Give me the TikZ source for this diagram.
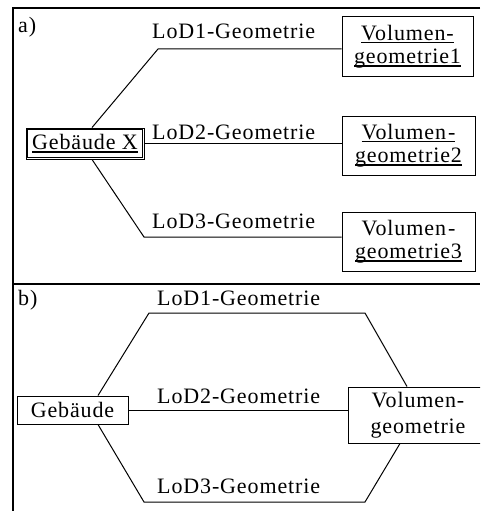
\documentclass[tikz,border=0pt]{standalone}
\usepackage{fontspec}
\setmainfont{Liberation Serif}[LetterSpace=4]
\usetikzlibrary{calc}
\newcommand\fs{\fontsize{22}{23.5}\selectfont}
\newcommand\myul[1]{\setbox0\hbox{#1}\rlap{\rule[-3pt]{\wd0}{1.3pt}}\box0}
\begin{document}
\begin{tikzpicture}[x=1pt,y=-1pt,
  lbl/.style={anchor=base west, inner sep=0pt, font=\fs},
  box/.style={draw, line width=1pt, inner sep=0pt, align=center, font=\fs},
  conn/.style={line width=1pt},
  frame/.style={line width=1.3pt}]
\useasboundingbox (0,0) rectangle (480,511);
\clip (0,0) rectangle (480,511);
% frame
\draw[frame] (480,8) -- (13,8) -- (13,511);
\draw[frame] (13,284) -- (480,284);
% part a
\node[lbl] (la) at (18,33) {a)};
\node[box, line width=0.9pt, minimum width=118pt, minimum height=31pt] (gx) at (85,143.5) {\myul{Gebäude X}};
\draw[line width=0.8pt] ([shift={(2.2pt,-2.2pt)}]gx.north west) rectangle ([shift={(-2.2pt,2.2pt)}]gx.south east);
\node[box, minimum width=131pt, minimum height=59pt] (v1) at (407.5,46.5) {\myul{Volumen-}\\\myul{geometrie1}};
\node[box, minimum width=133pt, minimum height=59pt] (v2) at (408.5,145.5) {\myul{Volumen\kern2pt-}\\\myul{geometrie2}};
\node[box, minimum width=133pt, minimum height=59pt] (v3) at (408.5,241.5) {Volumen\kern2pt-\\\myul{geometrie3}};
\node[lbl] (l1a) at (152,39) {LoD1-Geometrie};
\node[lbl] (l2a) at (152,139.5) {LoD2-Geometrie};
\node[lbl] (l3a) at (152,228) {LoD3-Geometrie};
\coordinate (a1) at (158,49);
\coordinate (a3) at (144,237);
\draw[conn] ([xshift=7pt]gx.north) -- (a1) -- (a1 -| v1.west);
\draw[conn] (gx.east) -- (gx.east -| v2.west);
\draw[conn] ([xshift=7pt]gx.south) -- (a3) -- (a3 -| v3.west);
% part b
\node[lbl] (lb) at (18,305) {b)};
\node[box, minimum width=111pt, minimum height=28pt] (gb) at (72.5,410) {Gebäude};
\node[box, minimum width=140pt, minimum height=56pt] (vb) at (418,415) {Volumen-\\[3pt]geometrie};
\node[lbl] (l1b) at (157,305) {LoD1-Geometrie};
\node[lbl] (l2b) at (157,403) {LoD2-Geometrie};
\node[lbl] (l3b) at (157,493) {LoD3-Geometrie};
\coordinate (b1) at (149,313);
\coordinate (b1r) at (365,313);
\coordinate (b3) at (144,502);
\coordinate (b3r) at (365,502);
\draw[conn] ([xshift=25.5pt]gb.north) -- (b1) -- (b1r) -- ([xshift=-11pt]vb.north);
\draw[conn] (gb.east) -- (gb.east -| vb.west);
\draw[conn] ([xshift=25.5pt]gb.south) -- (b3) -- (b3r) -- ([xshift=-18pt]vb.south);
\end{tikzpicture}
\end{document}
